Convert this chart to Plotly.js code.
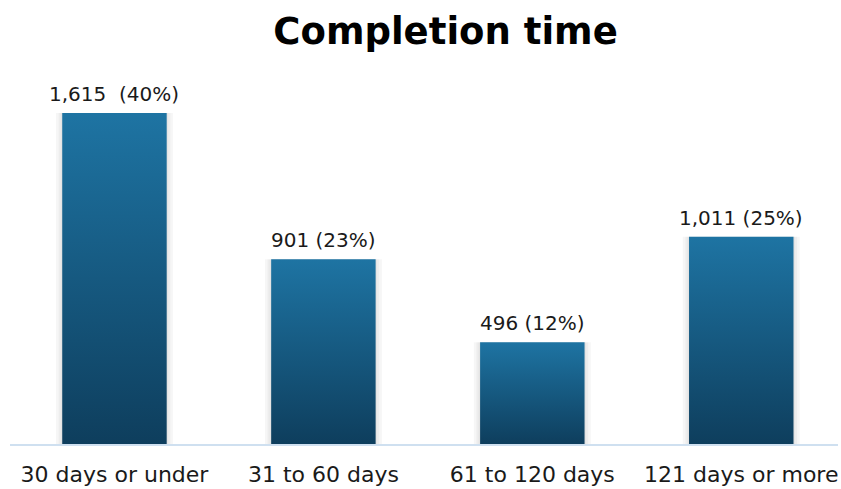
<!DOCTYPE html>
<html>
<head>
<meta charset="utf-8">
<script src="https://cdn.plot.ly/plotly-3.0.1.min.js"></script>
<style>html,body{margin:0;padding:0;background:#fff;}#chart{width:841px;height:489px;}</style>
</head>
<body>
<div id="chart"></div>
<script>
var categories = ["30 days or under", "31 to 60 days", "61 to 120 days", "121 days or more"];
var counts = [1615, 901, 496, 1011];
var percents = [40, 23, 12, 25];
var labels = ["1,615  (40%)", "901 (23%)", "496 (12%)", "1,011 (25%)"];

var barWidth = 0.5;
var topColor = "#1e74a3";
var bottomColor = "#0e3e5d";
var FONT = "DejaVu Sans";

var positions = categories.map(function(_, i){ return i; });
var traces = [];

// soft shadow behind bars
[0.56, 0.535, 0.515].forEach(function(w){
  traces.push({
    type: "bar",
    x: positions,
    y: counts,
    width: w,
    marker: {color: "rgba(0,0,0,0.035)", line: {width: 0}},
    hoverinfo: "skip",
    showlegend: false
  });
});

// gradient bars drawn as filled shapes through the axes
counts.forEach(function(v, i){
  var x0 = positions[i] - barWidth/2, x1 = positions[i] + barWidth/2;
  traces.push({
    type: "scatter",
    mode: "lines",
    x: [x0, x1, x1, x0, x0],
    y: [0, 0, v, v, 0],
    fill: "toself",
    line: {width: 0, color: "rgba(0,0,0,0)"},
    fillgradient: {type: "vertical", colorscale: [[0, bottomColor], [1, topColor]]},
    hoverinfo: "skip",
    showlegend: false
  });
});

var annotations = counts.map(function(v, i){
  return {
    x: positions[i], y: v, xref: "x", yref: "y",
    text: labels[i], showarrow: false,
    yanchor: "bottom", yshift: 5,
    font: {family: FONT, size: 20, color: "#1a1a1a"}
  };
});

var layout = {
  width: 841, height: 489,
  margin: {l: 10, r: 3, t: 60, b: 45},
  barmode: "overlay",
  paper_bgcolor: "#ffffff",
  plot_bgcolor: "#ffffff",
  title: {
    text: "<b>Completion time</b>",
    font: {family: FONT, size: 37, color: "#000000"},
    x: 0.526, xanchor: "center", xref: "paper",
    y: 0.937, yref: "container", yanchor: "middle"
  },
  xaxis: {
    range: [-0.5, 3.463],
    tickvals: positions,
    ticktext: categories,
    tickfont: {family: FONT, size: 22, color: "#1a1a1a"},
    ticklabelstandoff: 10,
    showgrid: false, zeroline: false,
    showline: true, linecolor: "#cfe0f0", linewidth: 2,
    ticks: "", ticklen: 0,
    fixedrange: true
  },
  yaxis: {
    range: [0, 1873],
    visible: false,
    showgrid: false, zeroline: false,
    fixedrange: true
  },
  annotations: annotations,
  showlegend: false
};

Plotly.newPlot("chart", traces, layout, {displayModeBar: false, staticPlot: true});
</script>
</body>
</html>
